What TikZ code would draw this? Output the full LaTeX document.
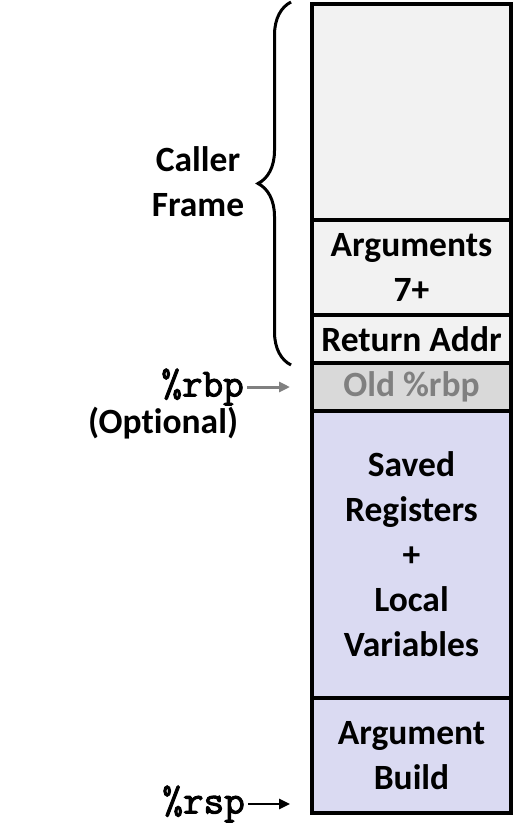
\documentclass[tikz,border=0pt]{standalone}
\usepackage{fontspec}
\setmainfont{Carlito}[Ligatures=NoCommon]
\newfontfamily\regfont{Latin Modern Mono}[FakeBold=2.5]
\usetikzlibrary{arrows.meta,decorations.pathreplacing}
\definecolor{framegray}{HTML}{F2F2F2}
\definecolor{oldgray}{HTML}{D9D9D9}
\definecolor{textgray}{HTML}{808080}
\definecolor{localblue}{HTML}{DADAF2}
\tikzset{
    slot/.style={draw=black, line width=4pt, minimum width=199pt, inner sep=0pt,
        align=center, font=\fontsize{35.5}{45}\selectfont\bfseries},
    side/.style={align=center, font=\fontsize{35.5}{45}\selectfont\bfseries},
    reg/.style={inner sep=3pt, font=\fontsize{40}{40}\selectfont\regfont},
}

\begin{document}
\begin{tikzpicture}[x=1pt, y=-1pt, >={Triangle[length=11pt,width=10pt]}]
    \useasboundingbox (0,0) rectangle (516,828);
    \node[slot, fill=framegray, minimum height=216pt] (caller) at (411.5,112) {};
    \node[slot, fill=framegray, minimum height=95pt] (args) at (411.5,267.5) {Arguments\\7+};
    \node[slot, fill=framegray, minimum height=48pt] (ret) at (411.5,339) {Return Addr};
    \node[slot, fill=oldgray, text=textgray, minimum height=48pt] (old) at (411.5,387) {Old \%rbp};
    \node[slot, fill=localblue, minimum height=287pt] (saved) at (411.5,554.5) {Saved\\Registers\\+\\Local\\Variables};
    \node[slot, fill=localblue, minimum height=115pt] (build) at (411.5,755.5) {Argument\\Build};
    \draw[decorate, decoration={brace, amplitude=33pt}, line width=3pt]
        ([xshift=-19pt]ret.south west) -- ([xshift=-19pt]caller.north west);
    \node[side] (frame) at (198,182) {Caller\\Frame};
    \node[reg, anchor=east] (rbp) at ([xshift=-63pt]old.west) {\%rbp};
    \node[side] (opt) at (163,423) {(Optional)};
    \draw[->, textgray, line width=3pt] (rbp.east) -- ([xshift=-20pt]old.west);
    \coordinate (rsptip) at ([xshift=-20pt,yshift=11pt]build.south west);
    \node[reg, anchor=east] (rsp) at ([xshift=-42pt]rsptip) {\%rsp};
    \draw[->, line width=2.5pt] (rsp.east) -- (rsptip);
\end{tikzpicture}
\end{document}
